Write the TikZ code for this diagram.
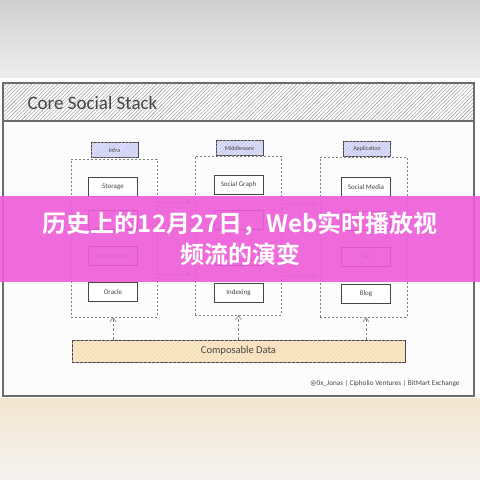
\documentclass[tikz,border=0pt]{standalone}
\usepackage{fontspec}
\setmainfont{Carlito}
\newfontfamily\cjkfont{Noto Sans CJK SC}[BoldFont={* Bold}]
\usetikzlibrary{patterns.meta,arrows.meta}
\definecolor{bgtop}{RGB}{208,208,210}
\definecolor{bgtop2}{RGB}{238,238,238}
\definecolor{bgbot}{RGB}{243,230,206}
\definecolor{bgbot2}{RGB}{243,242,240}
\definecolor{inkc}{RGB}{70,70,70}
\definecolor{lav}{RGB}{205,206,246}
\definecolor{peach}{RGB}{248,224,184}
\definecolor{banner}{RGB}{238,92,216}
\tikzset{
  x=1pt,y=-1pt,
  ink/.style={draw=inkc,line width=0.7pt},
  stackbox/.style={ink,fill=white,minimum width=49pt,minimum height=19pt,inner sep=0pt,font=\fontsize{7}{8}\selectfont,text=inkc},
  headbox/.style={ink,fill=lav,minimum width=47pt,minimum height=15pt,inner sep=0pt,font=\fontsize{6}{7}\selectfont,text=inkc,
    postaction={pattern={Lines[angle=45,distance=2.5pt,line width=0.25pt]},pattern color=white}},
  container/.style={draw=gray,dashed,line width=0.6pt,dash pattern=on 2pt off 2pt},
  flow/.style={draw=gray,line width=0.6pt,dash pattern=on 2.5pt off 2pt,-{Straight Barb[length=4pt,width=6pt]}},
}
\begin{document}
\begin{tikzpicture}
\useasboundingbox (0,0) rectangle (480,480);
% background
\shade[top color=bgtop,bottom color=bgtop2] (0,0) rectangle (480,80);
\fill[white] (0,78) rectangle (480,400);
\shade[top color=bgbot,bottom color=bgbot2] (0,398) rectangle (480,480);
% panel
\fill[white!98!gray] (3,83) rectangle (474,396);
\path[pattern={Lines[angle=45,distance=2.6pt,line width=0.4pt]},pattern color=gray!85] (3,83) rectangle (474,121);
\draw[draw=inkc!80,line width=1.4pt] (3,83) rectangle (474,396);
\draw[draw=inkc!80,line width=1.2pt] (3,121) -- (474,121);
\node[anchor=west,font=\fontsize{19}{22}\selectfont,text=inkc] (title) at (24,103) {Core Social Stack};
% containers
\node[container,minimum width=86pt,minimum height=158pt,inner sep=0pt] (c1) at (114,238) {};
\node[container,minimum width=86pt,minimum height=159pt,inner sep=0pt] (c2) at (238,235.5) {};
\node[container,minimum width=87pt,minimum height=160pt,inner sep=0pt] (c3) at (363.5,237) {};
% headers
\node[headbox] (h1) at (114.5,150) {Infra};
\node[headbox] (h2) at (239.5,148) {Middleware};
\node[headbox] (h3) at (367,148.5) {Application};
% boxes
\node[stackbox] (s1) at (113,186.5) {Storage};
\node[stackbox] (s2) at (113,220) {};
\node[stackbox] (s3) at (113,256) {Data Model};
\node[stackbox] (s4) at (113,292) {Oracle};
\node[stackbox] (m1) at (238.5,185) {Social Graph};
\node[stackbox] (m2) at (238.5,220) {};
\node[stackbox] (m3) at (238.5,256) {};
\node[stackbox] (m4) at (238.5,293) {Indexing};
\node[stackbox] (a1) at (366,187) {Social Media};
\node[stackbox] (a2) at (366,221) {};
\node[stackbox] (a3) at (366,257) {IM};
\node[stackbox] (a4) at (366,294) {Blog};
% flow arrows between columns
\coordinate (f1a) at (158,202); \coordinate (f1b) at (190,202);
\coordinate (f2a) at (158,274); \coordinate (f2b) at (190,274);
\coordinate (f3a) at (284,203); \coordinate (f3b) at (317,203);
\coordinate (f4a) at (284,276); \coordinate (f4b) at (317,276);
\draw[flow] (f1a) -- (f1b);
\draw[flow] (f2a) -- (f2b);
\draw[flow] (f3a) -- (f3b);
\draw[flow] (f4a) -- (f4b);
% composable data
\node[draw=inkc,line width=0.8pt,fill=peach,minimum width=333pt,minimum height=22pt,inner sep=0pt,
  postaction={pattern={Lines[angle=45,distance=3pt,line width=0.3pt]},pattern color=white!70!peach},
  font=\fontsize{10.5}{12}\selectfont,text=inkc] (cd) at (238.5,351) {Composable Data};
\draw[flow] (cd.north -| s4) -- (c1.south -| s4);
\draw[flow] (cd.north -| m4) -- (c2.south -| m4);
\draw[flow] (cd.north -| a4) -- (c3.south -| a4);
% footer
\node[anchor=east,font=\fontsize{7.2}{8}\selectfont,text=inkc] (foot) at (463,384) {@0x\_Jonas | Cipholio Ventures | BitMart Exchange};
% banner
\fill[banner,opacity=0.9] (0,196) rectangle (480,282);
\node[font=\cjkfont\bfseries\fontsize{24}{28}\selectfont,text=white] (t1) at (240,224) {历史上的12月27日，Web实时播放视};
\node[font=\cjkfont\bfseries\fontsize{24}{28}\selectfont,text=white] (t2) at (240,254) {频流的演变};
\end{tikzpicture}
\end{document}
